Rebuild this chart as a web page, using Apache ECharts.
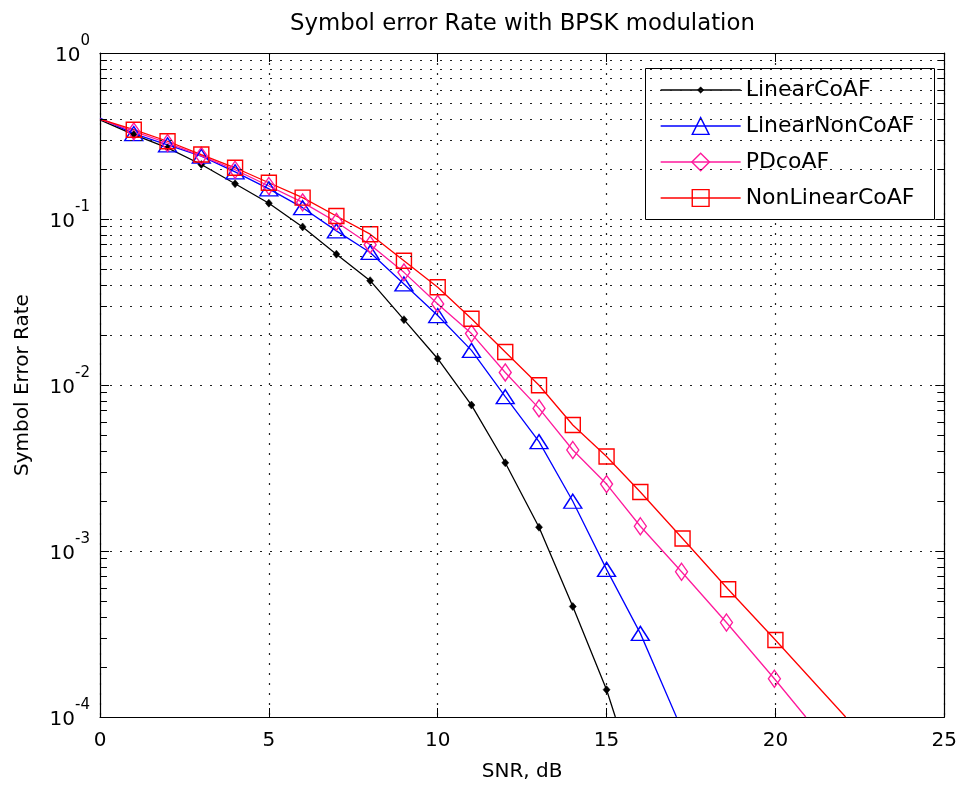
<!DOCTYPE html>
<html><head><meta charset="utf-8">
<script src="https://cdn.jsdelivr.net/npm/echarts@6/dist/echarts.min.js"></script>
<style>html,body{margin:0;padding:0;background:#fff}#c{width:960px;height:787px}</style>
</head><body><div id="c"></div>
<script>
// ---- data ----
const chartTitle = 'Symbol error Rate with BPSK modulation';
const xName = 'SNR, dB';
const yName = 'Symbol Error Rate';
const seriesNames = ['LinearCoAF', 'LinearNonCoAF', 'PDcoAF', 'NonLinearCoAF'];

const snrLinearCoAF = [0, 1, 2, 3, 4, 5, 6, 7, 8, 9, 10, 11, 12, 13, 14, 15, 15.26];
const serLinearCoAF = [0.396, 0.322, 0.268, 0.213, 0.163, 0.1245, 0.0896, 0.0614, 0.0425, 0.02475, 0.01440, 0.00757, 0.00340, 0.00139, 0.000463, 0.000146, 0.0001];

const snrLinearNonCoAF = [0, 1, 2, 3, 4, 5, 6, 7, 8, 9, 10, 11, 12, 13, 14, 15, 16, 17.07];
const serLinearNonCoAF = [0.405, 0.327, 0.280, 0.239, 0.1924, 0.152, 0.117, 0.0848, 0.0629, 0.0406, 0.0262, 0.01617, 0.0085, 0.00456, 0.001994, 0.000775, 0.000319, 0.0001];

const snrPDcoAF = [0, 1, 2, 3, 4, 5, 6, 7, 8, 9, 10, 11, 12, 13, 14, 15, 16, 17.22, 18.55, 19.97, 20.9];
const serPDcoAF = [0.40, 0.337, 0.287, 0.240, 0.198, 0.158, 0.126, 0.096, 0.070, 0.0477, 0.0308, 0.0204, 0.0119, 0.00723, 0.00406, 0.00253, 0.00141, 0.00075, 0.000371, 0.000170, 0.0001];

const snrNonLinearCoAF = [0, 1, 2, 3, 4, 5, 6, 7, 8, 9, 10, 11, 12, 13, 14, 15, 16, 17.25, 18.6, 20.0, 22.08];
const serNonLinearCoAF = [0.40, 0.345, 0.294, 0.2445, 0.2035, 0.1653, 0.1345, 0.1043, 0.081, 0.056, 0.0388, 0.02505, 0.0158, 0.00997, 0.00574, 0.00371, 0.002266, 0.00119, 0.000588, 0.000291, 0.0001];

const xMin = 0, xMax = 25, xStep = 5;
const yMin = 1e-4, yMax = 1;
const minorMantissas = [2, 3, 4, 5, 6, 7, 8, 9];
const decades = [-4, -3, -2, -1];

// ---- styling ----
const FONT = "'DejaVu Sans', sans-serif";
const colors = ['#000000', '#0000ff', '#ff1a9c', '#ff0000'];
const symbols = ['diamond', 'triangle', 'diamond', 'rect'];
const symbolSizes = [[7, 8], [18, 14], [12, 17], [15, 15]];
const legendHeights = [8, 21, 22, 21];
const dotted = [2, 8];

function mk(xs, ys) {
  return xs.map((x, i) => {
    const item = { value: [x, ys[i]] };
    if (i === 0 || i === xs.length - 1) item.symbol = 'none';
    return item;
  });
}
const allX = [snrLinearCoAF, snrLinearNonCoAF, snrPDcoAF, snrNonLinearCoAF];
const allY = [serLinearCoAF, serLinearNonCoAF, serPDcoAF, serNonLinearCoAF];

const minorVals = [];
decades.forEach(d => minorMantissas.forEach(m => minorVals.push(+(m * Math.pow(10, d)).toPrecision(6))));
const tickLen = 7 / 33.88;

const gridLines = minorVals.map(v => ({ yAxis: v }));
const tickLines = [];
minorVals.forEach(v => {
  tickLines.push([{ coord: [xMin, v] }, { coord: [xMin + tickLen, v] }]);
  tickLines.push([{ coord: [xMax - tickLen, v] }, { coord: [xMax, v] }]);
});

const series = [
  {
    name: '__grid', type: 'line', data: [], silent: true, z: 1,
    markLine: {
      silent: true, symbol: ['none', 'none'], animation: false, label: { show: false },
      lineStyle: { color: '#222', width: 1.2, type: dotted },
      emphasis: { disabled: true },
      data: gridLines
    }
  },
  {
    name: '__ticks', type: 'line', data: [], silent: true, z: 1,
    markLine: {
      silent: true, symbol: ['none', 'none'], animation: false, label: { show: false },
      lineStyle: { color: '#000', width: 1, type: 'solid' },
      emphasis: { disabled: true },
      data: tickLines
    }
  }
];
seriesNames.forEach((n, i) => {
  const hollow = i > 0;
  series.push({
    name: n, type: 'line', xAxisIndex: 0, yAxisIndex: 0,
    data: mk(allX[i], allY[i]),
    symbol: symbols[i], symbolSize: symbolSizes[i],
    showAllSymbol: true, clip: true, z: 3,
    lineStyle: { color: colors[i], width: 1.3 },
    itemStyle: { color: hollow ? 'rgba(0,0,0,0)' : colors[i], borderColor: colors[i], borderWidth: hollow ? 1.4 : 0.5 },
    emphasis: { disabled: true }
  });
});

const legendCenters = [90, 126, 162, 198];
const legends = seriesNames.map((n, i) => ({
  orient: 'vertical', left: 660, top: legendCenters[i] - 12, padding: 0,
  itemWidth: 80, itemHeight: legendHeights[i], selectedMode: false, z: 5,
  textStyle: { fontFamily: FONT, fontSize: 22, color: '#000', lineHeight: 24 },
  data: [{
    name: n,
    itemStyle: { color: i > 0 ? 'rgba(0,0,0,0)' : colors[i], borderColor: colors[i], borderWidth: i > 0 ? 1.4 : 0.5 },
    lineStyle: { color: colors[i], width: 1.3 }
  }]
}));

const supMap = v => {
  const e = Math.round(Math.log10(v));
  return '{b|10}{s|' + e + '}';
};

const option = {
  animation: false,
  backgroundColor: '#fff',
  title: {
    text: chartTitle, left: 290, top: 13, padding: 0,
    textStyle: { fontFamily: FONT, fontSize: 22.8, fontWeight: 'normal', color: '#000' }
  },
  legend: legends,
  graphic: [{
    type: 'rect', z: 4, silent: true,
    shape: { x: 645.5, y: 68.5, width: 289, height: 151 },
    style: { fill: '#fff', stroke: '#000', lineWidth: 1 }
  }],
  grid: { left: 100, top: 53, width: 847, height: 667, containLabel: false },
  xAxis: [
    {
      type: 'value', min: xMin, max: xMax, interval: xStep, position: 'bottom',
      name: xName, nameLocation: 'middle', nameGap: 45,
      nameTextStyle: { fontFamily: FONT, fontSize: 20, color: '#000' },
      axisLine: { lineStyle: { color: '#000', width: 1.2 } },
      axisTick: { inside: true, length: 9, lineStyle: { color: '#000' } },
      axisLabel: { fontFamily: FONT, fontSize: 20, color: '#000', margin: 14 },
      splitLine: { show: true, lineStyle: { color: '#222', width: 1.2, type: dotted } }
    },
    {
      type: 'value', min: xMin, max: xMax, interval: xStep, position: 'top',
      axisLine: { show: true, onZero: false, lineStyle: { color: '#000', width: 1.2 } },
      axisTick: { inside: true, length: 9, lineStyle: { color: '#000' } },
      axisLabel: { show: false }, splitLine: { show: false }
    }
  ],
  yAxis: [
    {
      type: 'log', logBase: 10, min: yMin, max: yMax, position: 'left',
      name: yName, nameLocation: 'middle', nameGap: 67, nameRotate: 90,
      nameTextStyle: { fontFamily: FONT, fontSize: 20, color: '#000' },
      axisLine: { show: true, lineStyle: { color: '#000', width: 1.2 } },
      axisTick: { show: true, inside: true, length: 9, lineStyle: { color: '#000' } },
      axisLabel: {
        margin: 10, formatter: supMap, padding: [6, 0, 0, 0],
        rich: {
          b: { fontFamily: FONT, fontSize: 20, color: '#000', lineHeight: 45 },
          s: { fontFamily: FONT, fontSize: 15, color: '#000', lineHeight: 15, verticalAlign: 'top' }
        }
      },
      splitLine: { show: true, lineStyle: { color: '#222', width: 1.2, type: dotted } }
    },
    {
      type: 'log', logBase: 10, min: yMin, max: yMax, position: 'right',
      axisLine: { show: true, onZero: false, lineStyle: { color: '#000', width: 1.2 } },
      axisTick: { show: true, inside: true, length: 9, lineStyle: { color: '#000' } },
      axisLabel: { show: false }, splitLine: { show: false }
    }
  ],
  series: series
};

const chart = echarts.init(document.getElementById('c'), null, { renderer: 'canvas' });
chart.setOption(option);
</script>
</body></html>
